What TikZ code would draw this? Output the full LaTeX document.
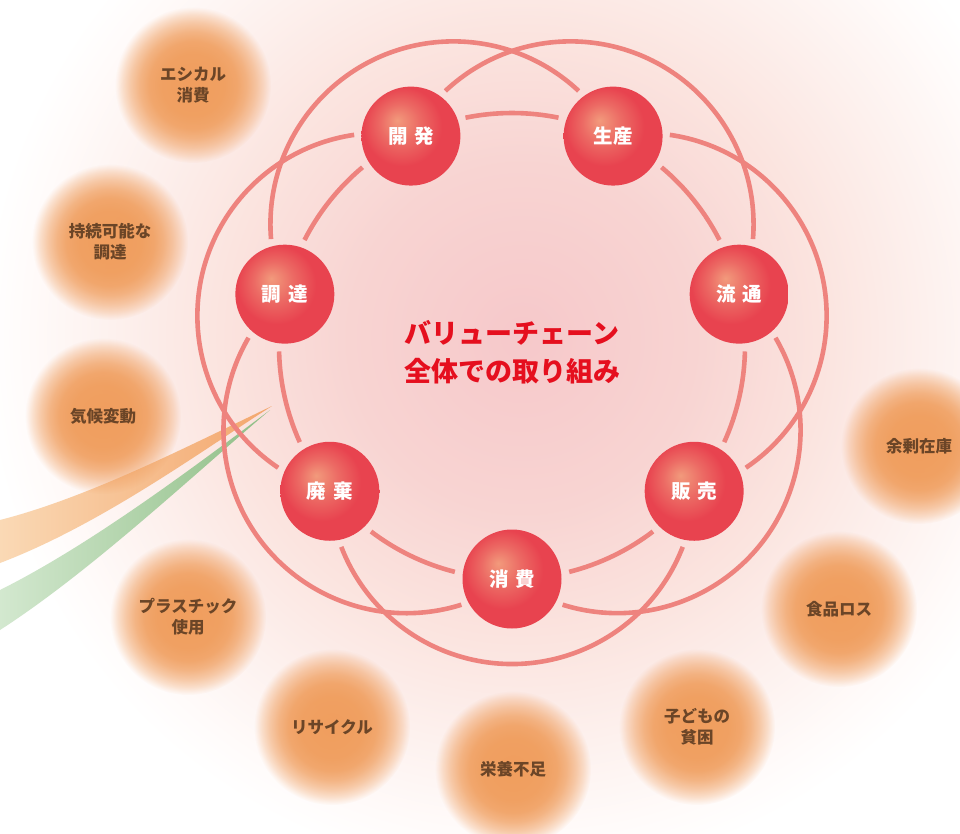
\documentclass[tikz,border=0pt]{standalone}
\usepackage{fontspec}
\setmainfont{Noto Sans CJK JP}
\usetikzlibrary{calc,fadings}
\definecolor{ringc}{HTML}{EE837E}
\definecolor{ballhl}{HTML}{F29A7C}
\definecolor{ballmid}{HTML}{EC6A64}
\definecolor{ballred}{HTML}{E8434F}
\definecolor{titlered}{HTML}{E50F1E}
\definecolor{blobc}{HTML}{F09E5E}
\definecolor{blobtxt}{HTML}{6B4527}
\definecolor{glowa}{HTML}{F6C8CA}
\definecolor{glowb}{HTML}{F8D4D2}
\definecolor{glowc}{HTML}{FBE4DF}
\definecolor{glowd}{HTML}{FDF1EE}
\definecolor{glowe}{HTML}{FFFBFA}
\definecolor{orpale}{HTML}{FAD9B5}
\definecolor{ormid}{HTML}{F8CCA2}
\definecolor{ordeep}{HTML}{F3A66C}
\definecolor{grpale}{HTML}{D3E8CF}
\definecolor{grmid}{HTML}{C2DEBB}
\definecolor{grdeep}{HTML}{8FBE86}
\pgfdeclareradialshading{redball}{\pgfpoint{-7bp}{8bp}}{color(0bp)=(ballhl); color(10bp)=(ballmid); color(20bp)=(ballred); color(25bp)=(ballred); color(50bp)=(ballred)}
\pgfdeclareradialshading{glow}{\pgfpoint{0bp}{0bp}}{color(0bp)=(glowa); color(8bp)=(glowb); color(14bp)=(glowc); color(19bp)=(glowd); color(23bp)=(glowe); color(25bp)=(white); color(50bp)=(white)}
\pgfdeclareradialshading{blobfadeshade}{\pgfpoint{0bp}{0bp}}{color(0bp)=(white); color(10bp)=(black!3); color(14bp)=(black!10); color(17bp)=(black!25); color(20bp)=(black!48); color(22.5bp)=(black!72); color(24.2bp)=(black!92); color(25bp)=(black); color(50bp)=(black)}
\pgfdeclarefading{blobfade}{\pgfuseshading{blobfadeshade}}
\tikzset{
  ring/.style={draw=ringc, line width=4.6pt},
  ball/.style={circle, minimum size=99pt, inner sep=0pt, shading=redball, text=white, font=\bfseries\fontsize{19.5}{19.5}\selectfont},
  blobtext/.style={text=blobtxt, align=center, font=\bfseries\fontsize{16.5}{21}\selectfont, inner sep=0pt},
  title/.style={text=titlered, align=center, font=\bfseries\fontsize{27}{38}\selectfont}
}
\begin{document}
\begin{tikzpicture}[x=1pt,y=-1pt]
\useasboundingbox (0,0) rectangle (960,834);
\fill[white] (0,0) rectangle (960,834);
\begin{scope}
\clip (0,0) rectangle (960,834);
\shade[shading=glow] (522,338) circle (540);
% beams
\shade[left color=orpale, middle color=ormid, right color=ordeep] (0,520) .. controls (90,497) and (190,445) .. (272,406) .. controls (200,452) and (100,525) .. (0,563) -- cycle;
\shade[left color=grpale, middle color=grmid, right color=grdeep] (0,590) .. controls (90,545) and (190,470) .. (270,410) .. controls (190,478) and (90,572) .. (0,630) -- cycle;
% blobs
\foreach \p/\t [count=\i] in {{193,85}/{エシカル\\消費}, {110,242}/{持続可能な\\調達}, {103,416}/{気候変動}, {188,617}/{プラスチック\\使用}, {332,727}/{リサイクル}, {513,769}/{栄養不足}, {697,727}/{子どもの\\貧困}, {839,609}/{食品ロス}, {919,446}/{余剰在庫}} {
  \fill[blobc, path fading=blobfade] (\p) circle (78);
  \node[blobtext] (b\i) at (\p) {\t};
}
\end{scope}
\coordinate (C) at (512,346);
% rings
\foreach \k in {0,...,6} {
  \pgfmathsetmacro\ang{90+360/7*\k}
  \pgfmathsetmacro\sa{\ang+14.2}
  \pgfmathsetmacro\ea{\ang+360/7-14.2}
  \draw[ring] ($(C)+(\sa:233)$) arc[start angle=\sa, end angle=\ea, radius=233];
  \pgfmathsetmacro\so{\ang-68.9}
  \pgfmathsetmacro\eo{\ang+68.9}
  \draw[ring] ($(C)+(\ang:135)+(\so:183)$) arc[start angle=\so, end angle=\eo, radius=183];
}
% stage nodes
\foreach \nm/\lab [count=\k from 0] in {shohi/{消\hspace{.35em}費}, haiki/{廃\hspace{.35em}棄}, chotatsu/{調\hspace{.35em}達}, kaihatsu/{開\hspace{.35em}発}, seisan/{生産}, ryutsu/{流\hspace{.35em}通}, hanbai/{販\hspace{.35em}売}} {
  \node[ball] (\nm) at ($(C)+({90+360/7*\k}:233)$) {\lab};
}
\node[title] (ttl) at (512,352) {バリューチェーン\\全体での取り組み};
\end{tikzpicture}
\end{document}
